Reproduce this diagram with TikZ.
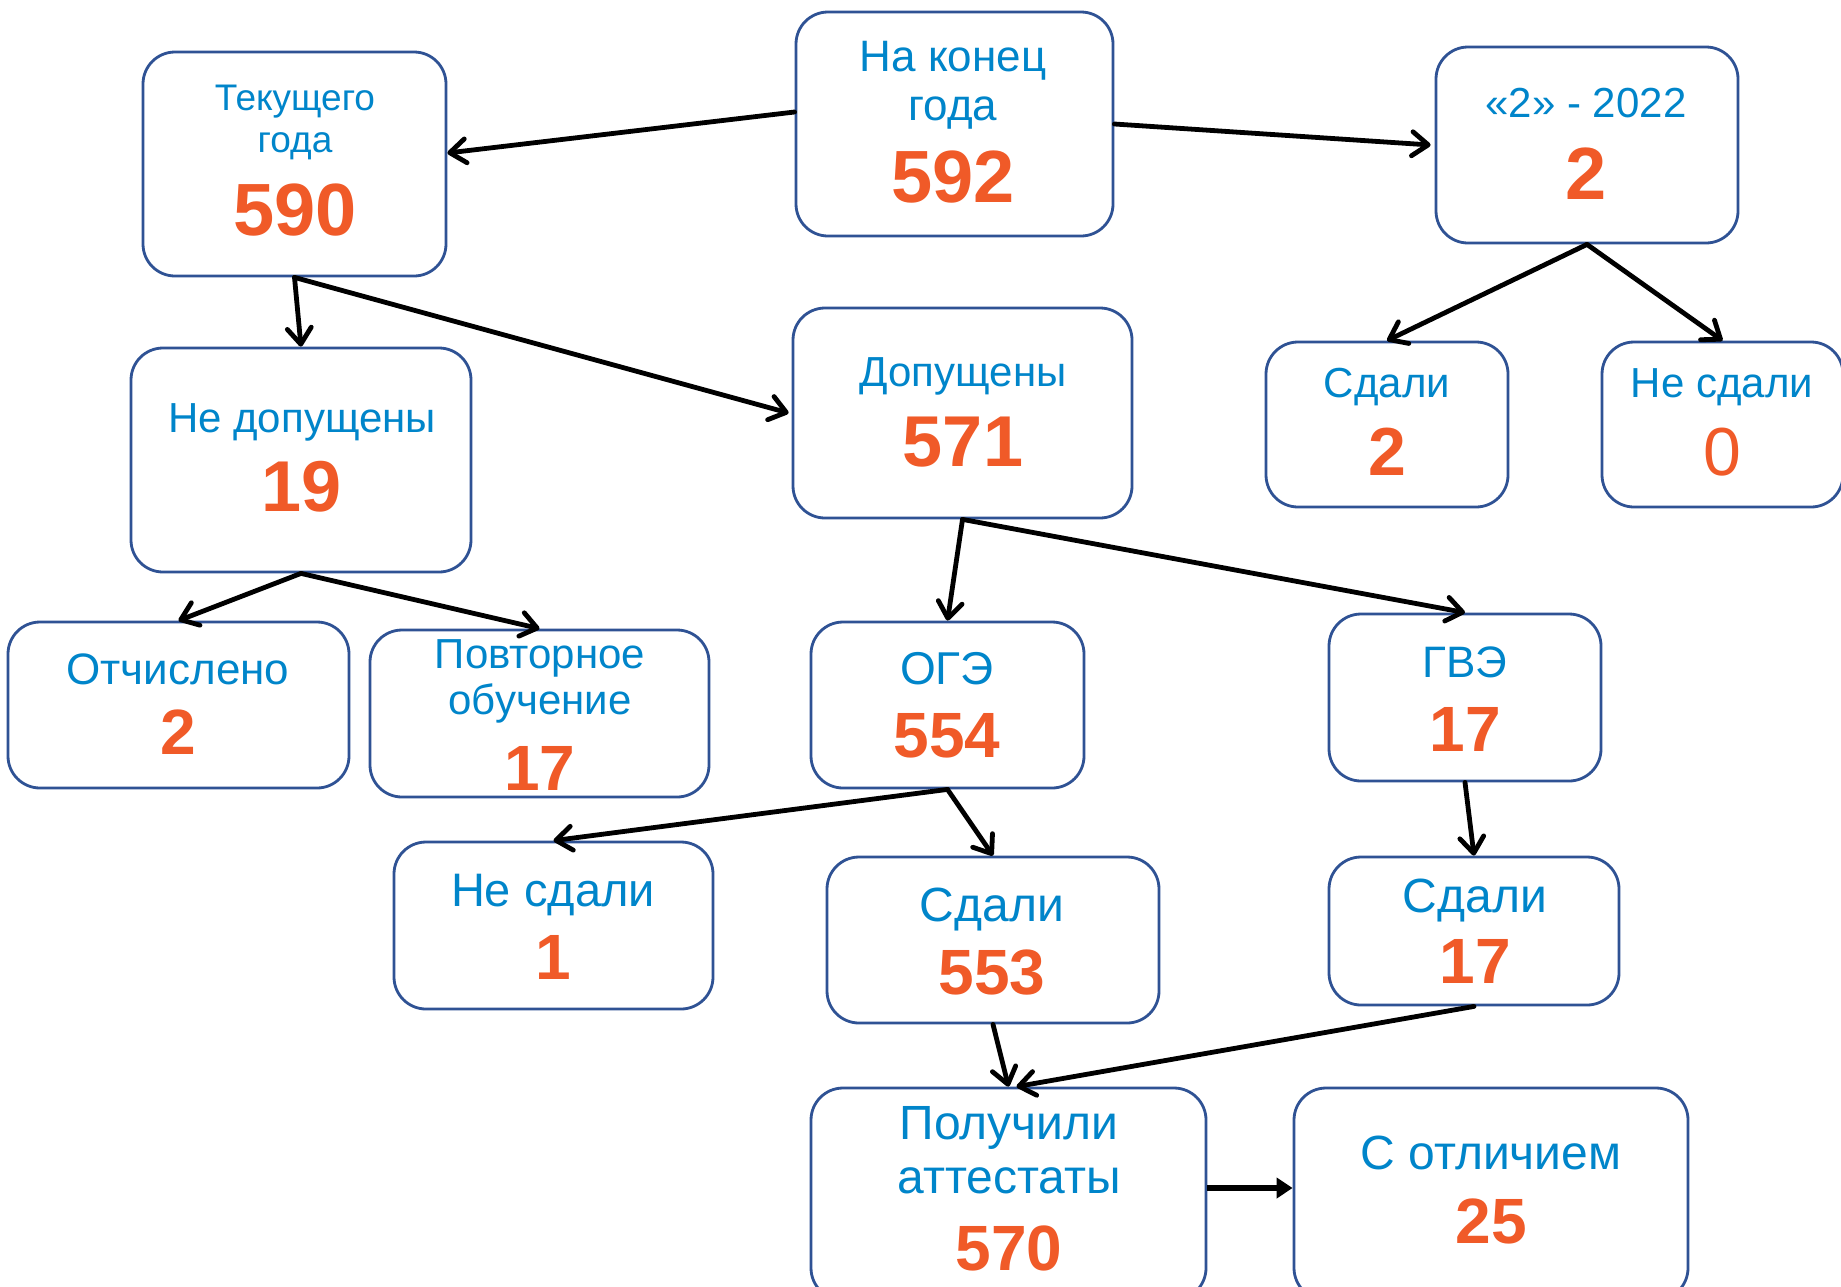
\documentclass[tikz,border=0pt]{standalone}
\usepackage{fontspec}
\setmainfont{Liberation Sans}
\usetikzlibrary{arrows.meta,calc}
\definecolor{bord}{RGB}{47,82,148}
\definecolor{lblue}{RGB}{0,133,202}
\definecolor{numor}{RGB}{240,90,40}
\begin{document}
\begin{tikzpicture}[x=0.5pt,y=-0.5pt,
  box/.style 2 args={draw=bord, line width=1.4pt, rounded corners=16pt, minimum width=#1, minimum height=#2, inner sep=0pt, fill=white},
  lbl/.style={text=lblue, anchor=base, inner sep=0pt, font=\fontsize{#1}{#1}\selectfont},
  num/.style={text=numor, anchor=base, inner sep=0pt, font=\fontsize{#1}{#1}\selectfont\bfseries},
  numr/.style={text=numor, anchor=base, inner sep=0pt, font=\fontsize{#1}{#1}\selectfont},
  conn/.style={line width=2.4pt, line cap=round, -{Straight Barb[length=8pt,width=12pt,line width=2.4pt,round]}},
  connb/.style={line width=2.6pt, -{Triangle[length=8pt,width=10pt]}}]
\useasboundingbox[fill=white] (0,0) rectangle (1841,1286);
% boxes
\node[box={151.5pt}{112pt}] (b1) at (294.5,164) {};
\node[box={158.5pt}{112pt}] (b2) at (954.5,124) {};
\node[box={151pt}{98pt}] (b3) at (1587,145) {};
\node[box={170pt}{112pt}] (b4) at (301,460) {};
\node[box={169.5pt}{105pt}] (b5) at (962.5,413) {};
\node[box={121pt}{82.5pt}] (b6) at (1387,424.5) {};
\node[box={120.5pt}{82.5pt}] (b7) at (1722.5,424.5) {};
\node[box={170.5pt}{83pt}] (b8) at (178.5,705) {};
\node[box={169.5pt}{83.5pt}] (b9) at (539.5,713.5) {};
\node[box={136.5pt}{83pt}] (b10) at (947.5,705) {};
\node[box={136pt}{83.5pt}] (b11) at (1465,697.5) {};
\node[box={159.5pt}{83.5pt}] (b12) at (553.5,925.5) {};
\node[box={166pt}{83pt}] (b13) at (993,940) {};
\node[box={145pt}{74pt}] (b14) at (1474,931) {};
\node[box={197.5pt}{106pt}] (b15) at (1008.5,1194) {};
\node[box={197pt}{106pt}] (b16) at (1491,1194) {};
% texts
\node[lbl=18.5] (t1a) at (295,110) {Текущего};
\node[lbl=18.5] (t1b) at (295,152) {года};
\node[num=37] (n1) at (295,235) {590};
\node[lbl=22] (t2a) at (953,71) {На конец};
\node[lbl=22] (t2b) at (953,120) {года};
\node[num=37] (n2) at (953,202) {592};
\node[lbl=21] (t3a) at (1586,117) {«2» - 2022};
\node[num=37] (n3) at (1586,199) {2};
\node[lbl=21] (t4a) at (302,432) {Не допущены};
\node[num=36] (n4) at (302,511) {19};
\node[lbl=21] (t5a) at (963,386) {Допущены};
\node[num=36] (n5) at (963,466) {571};
\node[lbl=21] (t6a) at (1387,397) {Сдали};
\node[num=34] (n6) at (1387,475) {2};
\node[lbl=21] (t7a) at (1722,397) {Не сдали};
\node[numr=34] (n7) at (1722,475) {0};
\node[lbl=22] (t8a) at (178,684) {Отчислено};
\node[num=32] (n8) at (178,754) {2};
\node[lbl=21] (t9a) at (540,668) {Повторное};
\node[lbl=21] (t9b) at (540,714) {обучение};
\node[num=32] (n9) at (540,790) {17};
\node[lbl=23] (t10a) at (947,684) {ОГЭ};
\node[num=32] (n10) at (947,757) {554};
\node[lbl=22] (t11a) at (1465,677) {ГВЭ};
\node[num=32] (n11) at (1465,751) {17};
\node[lbl=23.5] (t12a) at (553,906) {Не сдали};
\node[num=32] (n12) at (553,979) {1};
\node[lbl=24] (t13a) at (992,921) {Сдали};
\node[num=32] (n13) at (992,994) {553};
\node[lbl=24] (t14a) at (1475,912) {Сдали};
\node[num=32] (n14) at (1475,983) {17};
\node[lbl=24] (t15a) at (1009,1139) {Получили};
\node[lbl=24] (t15b) at (1009,1193) {аттестаты};
\node[num=32] (n15) at (1009,1270) {570};
\node[lbl=24] (t16a) at (1491,1169) {С отличием};
\node[num=32] (n16) at (1491,1243) {25};
% connectors
\draw[conn] ($(b2.west)+(0,-12)$) -- ($(b1.east)+(0,-11)$);
\draw[conn] (b2.east) -- ($(b3.west)+(-4,0)$);
\draw[conn] (b1.south) -- (b4.north);
\draw[conn] (b1.south) -- ($(b5.west)+(-3,0)$);
\draw[conn] (b3.south) -- (b6.north);
\draw[conn] (b3.south) -- (b7.north);
\draw[conn] (b4.south) -- (b8.north);
\draw[conn] (b4.south) -- (b9.north);
\draw[conn] (b5.south) -- (b10.north);
\draw[conn] (b5.south) -- (b11.north);
\draw[conn] (b10.south) -- (b12.north);
\draw[conn] (b10.south) -- (b13.north);
\draw[conn] (b11.south) -- (b14.north);
\draw[conn] (b13.south) -- (b15.north);
\draw[conn] (b14.south) -- ($(b15.north)+(8,0)$);
\draw[connb] ($(b15.east)+(0,-6)$) -- ($(b16.west)+(0,-6)$);
\end{tikzpicture}
\end{document}
